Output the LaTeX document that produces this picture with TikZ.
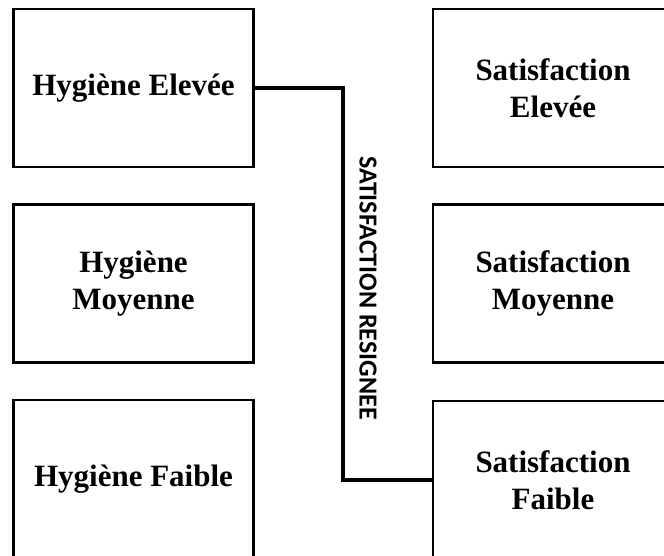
\documentclass[tikz,border=0pt]{standalone}
\usepackage{fontspec}
\setmainfont{Liberation Serif}
\newfontfamily\labelfont{Carlito}
\begin{document}
\begin{tikzpicture}[x=1pt,y=-1pt,
  box/.style={draw=black, line width=2.6pt, fill=white, inner sep=0pt,
    minimum width=240pt, minimum height=158pt, align=center,
    font=\fontsize{31}{37}\selectfont\bfseries},
  link/.style={draw=black, line width=3.2pt, line join=miter},
  linkshadow/.style={draw=black!35, line width=3.2pt, xshift=1.5pt, yshift=-1.5pt},
  lab/.style={font=\labelfont\fontsize{26}{28}\selectfont\bfseries, inner sep=0pt}]
  \clip (0,0) rectangle (664,556);
  \fill[white] (0,0) rectangle (664,556);

  % hygiene column
  \node[box] (hE) at (133.5,88) {Hygiène Elevée};
  \node[box] (hM) at (133.5,283.5) {Hygiène\\Moyenne};
  \node[box] (hF) at (133.5,479) {Hygiène Faible};

  % satisfaction column
  \node[box] (sE) at (553,88) {Satisfaction\\Elevée};
  \node[box] (sM) at (553,283.5) {Satisfaction\\Moyenne};
  \node[box] (sF) at (553,480) {Satisfaction\\Faible};

  % elbow connector between high hygiene and low satisfaction
  \coordinate (bend) at (343,88);
  \draw[linkshadow] (hE.east) -- (bend) |- (sF.west);
  \draw[link] (hE.east) -- (bend) |- (sF.west);

  \node[lab, rotate=-90] (lbl) at (368,288) {SATISFACTION RESIGNEE};
\end{tikzpicture}
\end{document}
